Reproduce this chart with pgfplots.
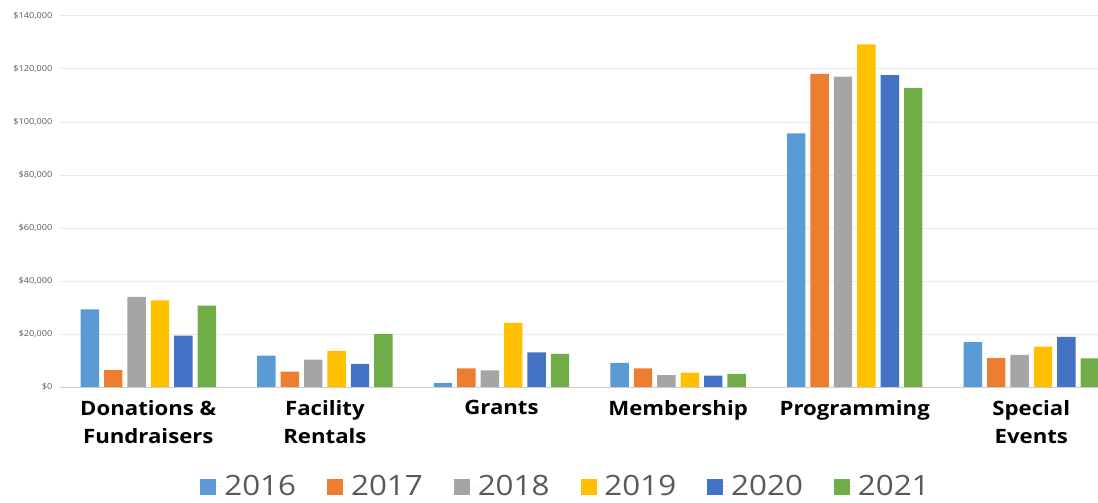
\documentclass[border=0pt]{standalone}
\usepackage{pgfplots}
\pgfplotsset{compat=1.18}
\usepackage{fontspec}
\setmainfont{Open Sans}
\newfontfamily\widefont[FakeStretch=1.12]{Open Sans}
\definecolor{c16}{HTML}{5B9BD5}
\definecolor{c17}{HTML}{ED7D31}
\definecolor{c18}{HTML}{A5A5A5}
\definecolor{c19}{HTML}{FFC000}
\definecolor{c20}{HTML}{4472C4}
\definecolor{c21}{HTML}{70AD47}
\definecolor{txtgray}{HTML}{595959}
\definecolor{gridgray}{HTML}{EBEBEB}
\begin{document}
\begin{tikzpicture}
\path[use as bounding box] (-60bp,-116bp) rectangle (1038bp,387bp);
\begin{axis}[
  at={(0,0)}, anchor=south west,
  scale only axis, width=1059.6bp, height=371bp,
  ybar=5bp, bar width=18.4bp,
  xmin=-0.5, xmax=5.5, ymin=0, ymax=140000,
  xtick={0,1,2,3,4,5},
  xticklabels={{Donations \&\\Fundraisers},{Facility\\Rentals},{Grants},{Membership},{Programming},{Special\\Events}},
  xticklabel style={align=center, font=\widefont\fontsize{19.8bp}{28.3bp}\selectfont\bfseries, text=black, yshift=-10bp},
  ytick={0,20000,40000,60000,80000,100000,120000,140000},
  scaled y ticks=false,
  yticklabels={{\$0},{\$20,000},{\$40,000},{\$60,000},{\$80,000},{\$100,000},{\$120,000},{\$140,000}},
  yticklabel style={font=\widefont\fontsize{8.2bp}{10bp}\selectfont, text=txtgray, xshift=-4bp},
  major tick length=0pt,
  ymajorgrids, grid style={gridgray, line width=1pt},
  axis line style={draw=none},
  legend columns=6,
  legend style={draw=none, at={(506bp,-99bp)}, anchor=center,
    font=\widefont\fontsize{28bp}{30bp}\selectfont, text=txtgray,
    /tikz/every even column/.append style={column sep=29bp}},
  legend image code/.code={\fill[#1, draw=none] (0bp,-9bp) rectangle (16bp,7bp); \path (0bp,0bp) -- (22bp,0bp);},
]
\addplot[fill=c16, draw=none] coordinates {(0,29300) (1,11800) (2,1600) (3,9100) (4,95700) (5,16900)};
\addplot[fill=c17, draw=none] coordinates {(0,6400) (1,5800) (2,7000) (3,7000) (4,118200) (5,10900)};
\addplot[fill=c18, draw=none] coordinates {(0,34000) (1,10300) (2,6300) (3,4500) (4,117100) (5,12100)};
\addplot[fill=c19, draw=none] coordinates {(0,32700) (1,13600) (2,24200) (3,5400) (4,129300) (5,15200)};
\addplot[fill=c20, draw=none] coordinates {(0,19400) (1,8700) (2,13100) (3,4300) (4,117700) (5,18900)};
\addplot[fill=c21, draw=none] coordinates {(0,30700) (1,20000) (2,12500) (3,5000) (4,112900) (5,10800)};
\legend{2016,2017,2018,2019,2020,2021}
\draw[gray!40, line width=1pt] (axis cs:-0.5,0) -- (axis cs:5.5,0);
\end{axis}
\end{tikzpicture}
\end{document}
